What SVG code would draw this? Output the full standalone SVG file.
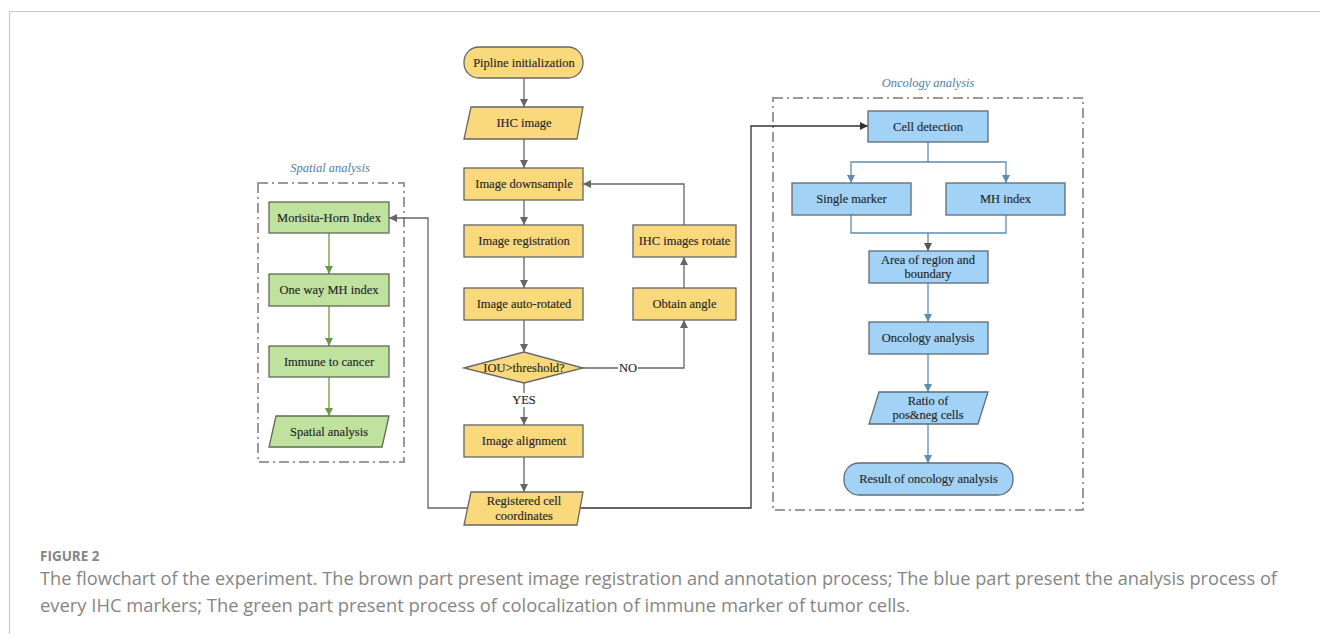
<svg xmlns="http://www.w3.org/2000/svg" width="1320" height="634" viewBox="0 0 1320 634">
<style>
.t{font-family:"Liberation Serif","DejaVu Serif",serif;font-size:12.5px;fill:#262626;text-anchor:middle;dominant-baseline:central;stroke:#262626;stroke-width:0.15}
.y{fill:#f9d97c;stroke:#666;stroke-width:1.3}
.b{fill:#a2d3f7;stroke:#5f6b75;stroke-width:1.3}
.g{fill:#bfe39f;stroke:#5f6b55;stroke-width:1.3}
.cy{fill:none;stroke:#666;stroke-width:1.3}
.cb{fill:none;stroke:#5b8db8;stroke-width:1.3}
.cg{fill:none;stroke:#6a9a45;stroke-width:1.3}
.cd{fill:none;stroke:#333;stroke-width:1.3}
.grp{fill:none;stroke:#999;stroke-width:2;stroke-dasharray:10 4 2 4}
.ttl{font-family:"Liberation Serif","DejaVu Serif",serif;font-size:12.5px;font-style:italic;fill:#4f7ea8;text-anchor:middle}
.cap{font-family:"Open Sans","Lato",sans-serif;font-size:18px;fill:#858585}
</style>
<defs>
<marker id="ay" viewBox="0 0 10 10" refX="10" refY="5" markerWidth="8" markerHeight="8" markerUnits="userSpaceOnUse" orient="auto"><path d="M0,0 L10,5 L0,10 z" fill="#666"/></marker>
<marker id="ab" viewBox="0 0 10 10" refX="10" refY="5" markerWidth="8" markerHeight="8" markerUnits="userSpaceOnUse" orient="auto"><path d="M0,0 L10,5 L0,10 z" fill="#5b8db8"/></marker>
<marker id="ab2" viewBox="0 0 10 10" refX="10" refY="5" markerWidth="8" markerHeight="8" markerUnits="userSpaceOnUse" orient="auto"><path d="M0,0 L10,5 L0,10 z" fill="#555"/></marker>
<marker id="ag" viewBox="0 0 10 10" refX="10" refY="5" markerWidth="8" markerHeight="8" markerUnits="userSpaceOnUse" orient="auto"><path d="M0,0 L10,5 L0,10 z" fill="#6a9a45"/></marker>
<marker id="ad" viewBox="0 0 10 10" refX="10" refY="5" markerWidth="8" markerHeight="8" markerUnits="userSpaceOnUse" orient="auto"><path d="M0,0 L10,5 L0,10 z" fill="#333"/></marker>
</defs>
<rect width="1320" height="634" fill="#fff"/>
<path d="M9.5,634 V11.5 H1320" fill="none" stroke="#c8c8c8" stroke-width="1.2"/>

<g id="groups">
<rect class="grp" x="258" y="183" width="146" height="279"/>
<text class="ttl" x="330" y="172">Spatial analysis</text>
<rect class="grp" x="773" y="98" width="310" height="412"/>
<text class="ttl" x="928" y="87">Oncology analysis</text>
</g>

<g id="connectors">
<path class="cy" d="M524,78 V107" marker-end="url(#ay)"/>
<path class="cy" d="M524,139 V168" marker-end="url(#ay)"/>
<path class="cy" d="M524,200 V225" marker-end="url(#ay)"/>
<path class="cy" d="M524,257 V288" marker-end="url(#ay)"/>
<path class="cy" d="M524,320 V352" marker-end="url(#ay)"/>
<path class="cy" d="M524,383 V393"/>
<path class="cy" d="M524,407 V425" marker-end="url(#ay)"/>
<path class="cy" d="M524,457 V492" marker-end="url(#ay)"/>
<path class="cy" d="M583,368 H618"/>
<path class="cy" d="M638,368 H684 V320" marker-end="url(#ay)"/>
<path class="cy" d="M684,288 V257" marker-end="url(#ay)"/>
<path class="cy" d="M684,225 V184 H583" marker-end="url(#ay)"/>
<path class="cy" d="M468,508 H428 V218 H389" marker-end="url(#ay)"/>
<path class="cd" d="M580,508 H751 V126 H868" marker-end="url(#ad)"/>
<path class="cg" d="M329,233 V274" marker-end="url(#ag)"/>
<path class="cg" d="M329,306 V346" marker-end="url(#ag)"/>
<path class="cg" d="M329,377 V416" marker-end="url(#ag)"/>
<path class="cb" d="M928,142 V162 H851 V183" marker-end="url(#ab)"/>
<path class="cb" d="M928,162 H1006 V183" marker-end="url(#ab)"/>
<path class="cb" d="M851,215 V233 H1006 V215"/>
<path class="cb" d="M928,233 V251" marker-end="url(#ab2)"/>
<path class="cb" d="M928,283 V322" marker-end="url(#ab)"/>
<path class="cb" d="M928,354 V392" marker-end="url(#ab)"/>
<path class="cb" d="M928,424 V463" marker-end="url(#ab)"/>
<text class="t" x="524" y="400">YES</text>
<text class="t" x="628" y="368">NO</text>
</g>

<g id="pipline-init"><rect class="y" x="464" y="47" width="119" height="31" rx="15"/><text class="t" x="524" y="62.5">Pipline initialization</text></g>
<g id="ihc-image"><path class="y" d="M471,107 H583 L577,139 H464 Z"/><text class="t" x="524" y="123">IHC image</text></g>
<g id="image-downsample"><rect class="y" x="464" y="168" width="119" height="32"/><text class="t" x="524" y="184">Image downsample</text></g>
<g id="image-registration"><rect class="y" x="464" y="225" width="119" height="32"/><text class="t" x="524" y="241">Image registration</text></g>
<g id="image-auto-rotated"><rect class="y" x="464" y="288" width="119" height="32"/><text class="t" x="524" y="304">Image auto-rotated</text></g>
<g id="iou-threshold"><path class="y" d="M464,368 L524,352 L583,368 L524,383 Z"/><text class="t" x="524" y="368">IOU&gt;threshold?</text></g>
<g id="image-alignment"><rect class="y" x="464" y="425" width="119" height="32"/><text class="t" x="524" y="441">Image alignment</text></g>
<g id="registered-cell"><path class="y" d="M471,492 H583 L577,525 H464 Z"/><text class="t" x="524" y="501">Registered cell</text><text class="t" x="524" y="516">coordinates</text></g>
<g id="ihc-images-rotate"><rect class="y" x="633" y="225" width="103" height="32"/><text class="t" x="684.5" y="241">IHC images rotate</text></g>
<g id="obtain-angle"><rect class="y" x="633" y="288" width="103" height="32"/><text class="t" x="684.5" y="304">Obtain angle</text></g>

<g id="morisita-horn"><rect class="g" x="269" y="202" width="120" height="31"/><text class="t" x="329" y="217.5">Morisita-Horn Index</text></g>
<g id="one-way-mh"><rect class="g" x="269" y="274" width="120" height="32"/><text class="t" x="329" y="290">One way MH index</text></g>
<g id="immune-to-cancer"><rect class="g" x="269" y="346" width="120" height="31"/><text class="t" x="329" y="361.5">Immune to cancer</text></g>
<g id="spatial-analysis"><path class="g" d="M276,416 H389 L382,447 H269 Z"/><text class="t" x="329" y="431.5">Spatial analysis</text></g>

<g id="cell-detection"><rect class="b" x="868" y="111" width="120" height="31"/><text class="t" x="928" y="126.5">Cell detection</text></g>
<g id="single-marker"><rect class="b" x="792" y="183" width="119" height="32"/><text class="t" x="851.5" y="199">Single marker</text></g>
<g id="mh-index"><rect class="b" x="946" y="183" width="119" height="32"/><text class="t" x="1005.5" y="199">MH index</text></g>
<g id="area-region"><rect class="b" x="869" y="251" width="119" height="32"/><text class="t" x="928" y="260">Area of region and</text><text class="t" x="928" y="274">boundary</text></g>
<g id="oncology-analysis"><rect class="b" x="869" y="322" width="119" height="32"/><text class="t" x="928" y="338">Oncology analysis</text></g>
<g id="ratio"><path class="b" d="M879,392 H988 L978,424 H869 Z"/><text class="t" x="928" y="401">Ratio of</text><text class="t" x="928" y="415">pos&amp;neg cells</text></g>
<g id="result"><rect class="b" x="844" y="463" width="169" height="32" rx="15"/><text class="t" x="928.5" y="479">Result of oncology analysis</text></g>

<g id="caption">
<text x="40" y="561" font-family="'Open Sans','Lato',sans-serif" font-size="13.5" font-weight="bold" fill="#858585">FIGURE 2</text>
<text class="cap" x="40" y="585" textLength="1237" lengthAdjust="spacingAndGlyphs">The flowchart of the experiment. The brown part present image registration and annotation process; The blue part present the analysis process of</text>
<text class="cap" x="40" y="612" textLength="870" lengthAdjust="spacingAndGlyphs">every IHC markers; The green part present process of colocalization of immune marker of tumor cells.</text>
</g>
</svg>
